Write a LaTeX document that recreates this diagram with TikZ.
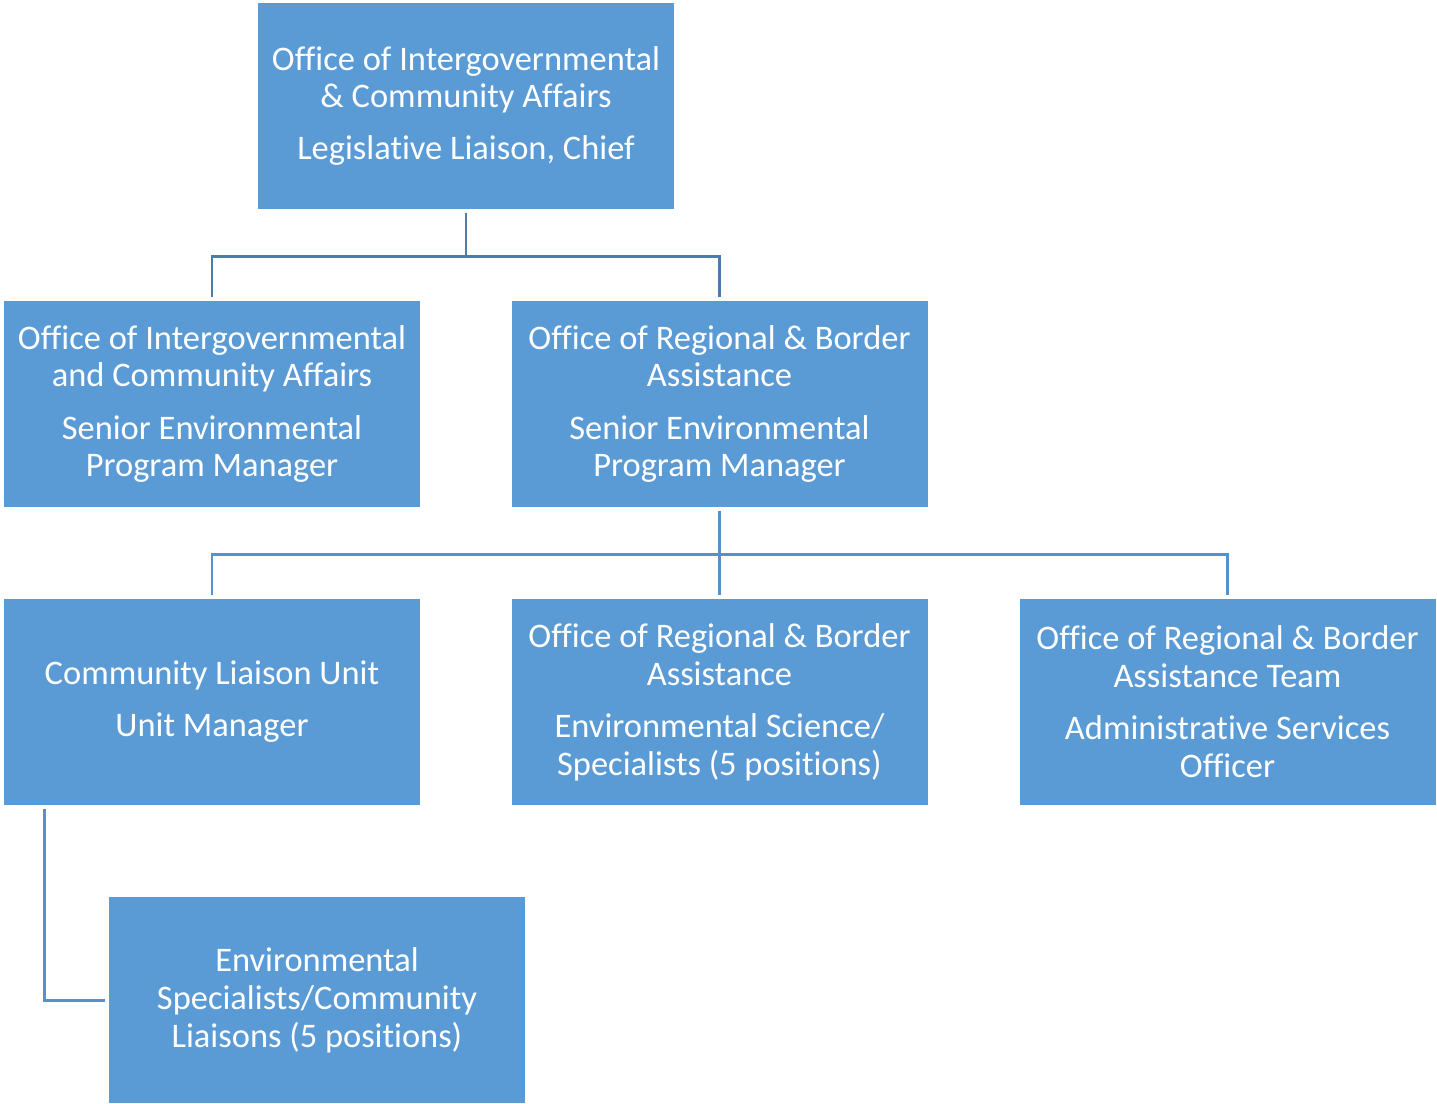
\documentclass[tikz,border=0pt]{standalone}
\usepackage{fontspec}
\setmainfont{Carlito}[Ligatures=NoCommon]
\definecolor{boxblue}{HTML}{5B9BD5}
\definecolor{linkdark}{HTML}{4A7DAB}
\definecolor{linkblue}{HTML}{5592CC}

\begin{document}
\begin{tikzpicture}[
    unit/.style={rectangle, fill=boxblue, text=white, minimum height=4.12cm, minimum width=8.32cm,
      inner sep=0pt, outer sep=2pt, align=center, font=\fontsize{19.6}{21.6}\selectfont},
    link/.style={line width=1.7pt, draw=linkblue}
  ]
    \useasboundingbox (0,0) rectangle (28.74,-22.08);

    % Units
    \node[unit] at (9.32,-2.12)   (chief)  {Office of Intergovernmental\\\& Community Affairs\\[8pt]Legislative Liaison, Chief};
    \node[unit] at (4.24,-8.08)   (oica)   {Office of Intergovernmental\\and Community Affairs\\[8pt]Senior Environmental\\Program Manager};
    \node[unit] at (14.39,-8.08)  (orba)   {Office of Regional \& Border\\Assistance\\[8pt]Senior Environmental\\Program Manager};
    \node[unit] at (4.24,-14.04)  (clu)    {Community Liaison Unit\\[8pt]Unit Manager};
    \node[unit] at (14.39,-14.04) (sci)    {Office of Regional \& Border\\Assistance\\[8pt]Environmental Science/\\Specialists (5 positions)};
    \node[unit] at (24.55,-14.04) (admin)  {Office of Regional \& Border\\Assistance Team\\[8pt]Administrative Services\\Officer};
    \node[unit] at (6.34,-20.0)   (liaison){Environmental\\Specialists/Community\\Liaisons (5 positions)};

    % Reporting lines
    \draw[link, draw=linkdark] (chief.south) -- ++(0,-0.88) -| (oica.north);
    \draw[link, draw=linkdark] (chief.south) ++(0,-0.88) -| (orba.north);
    \draw[link] (orba.south) -- (sci.north);
    \draw[link] (orba.south) ++(0,-0.88) -| (clu.north);
    \draw[link] (orba.south) ++(0,-0.88) -| (admin.north);
    \draw[link] (clu.south west) ++(0.88,0) |- (liaison.west);

  \end{tikzpicture}
\end{document}
